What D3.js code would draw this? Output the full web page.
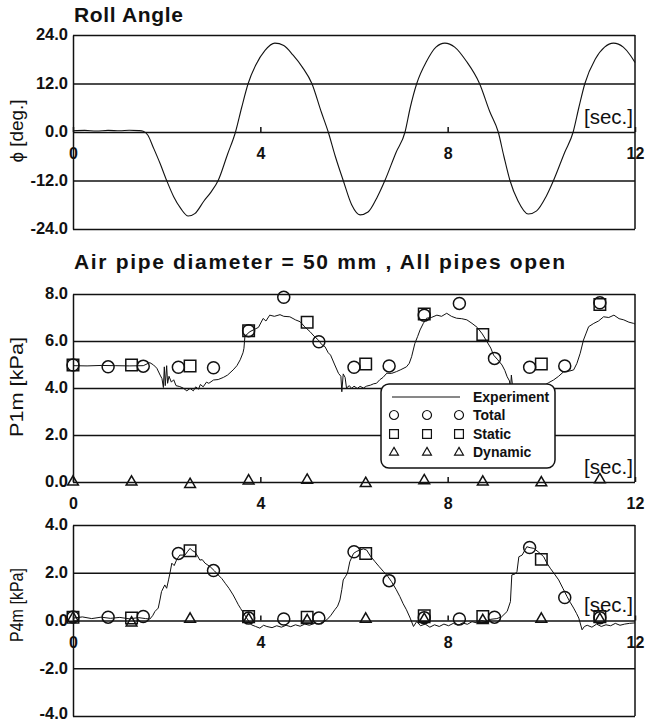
<!DOCTYPE html>
<html>
<head>
<meta charset="utf-8">
<script src="https://d3js.org/d3.v7.min.js"></script>
<style>
    body { margin: 0; background: #fff; }
    svg { display: block; }
</style>
</head>
<body>
<div id="chart"></div>
<script>
    // tick values
    var timeTicks = [0, 4, 8, 12];
    var rollTicks = [-24, -12, 0, 12, 24];
    var p1Ticks = [0, 2, 4, 6, 8];
    var p4Ticks = [-4, -2, 0, 2, 4];

    // roll angle [t (s), phi (deg)]
    var rollAngle = [
        [0, 0.3], [0.25, 0.4], [0.5, 0.25], [0.75, 0.4], [1.0, 0.3], [1.2, 0.45], [1.4, 0.35], [1.5, 0.2],
        [1.6, -0.8], [1.71, -3.7], [1.86, -7.8], [2.0, -12], [2.15, -16], [2.3, -18.9], [2.46, -20.8],
        [2.6, -20.2], [2.8, -17], [2.95, -14.8], [3.1, -12], [3.3, -5.5], [3.47, 0], [3.6, 6], [3.74, 12],
        [3.9, 16.5], [4.1, 20.2], [4.31, 22], [4.5, 21.4], [4.7, 19], [4.9, 16], [5.1, 12], [5.3, 5],
        [5.45, 0], [5.6, -6], [5.77, -12], [5.95, -18], [6.13, -20.5], [6.3, -19.8], [6.5, -16], [6.66, -12],
        [6.9, -5], [7.09, 0], [7.2, 6], [7.34, 12], [7.55, 17.5], [7.75, 21], [7.94, 22], [8.15, 21],
        [8.4, 17.5], [8.68, 12], [8.9, 5], [9.08, 0], [9.2, -6], [9.33, -12], [9.5, -17], [9.72, -20.3],
        [9.9, -19.5], [10.1, -16], [10.26, -12], [10.5, -5], [10.68, 0], [10.8, 6], [10.93, 12], [11.15, 18],
        [11.35, 21], [11.54, 22], [11.75, 21], [11.9, 19], [12, 17.2]
    ];

    // P1m experiment [t, kPa]
    var p1Experiment = [
        [0, 4.95], [0.3, 4.94], [0.6, 4.96], [0.9, 4.95], [1.2, 4.94], [1.5, 4.95], [1.64, 5.08], [1.72, 4.98],
        [1.79, 4.84], [1.86, 4.55], [1.9, 4.4], [1.93, 4.02], [1.95, 4.9], [1.97, 4.1], [2.0, 4.95], [2.02, 4.2],
        [2.05, 4.5], [2.1, 4.25], [2.15, 4.35], [2.2, 4.1], [2.28, 4.06], [2.35, 4.0], [2.43, 3.88], [2.5, 3.98],
        [2.57, 3.88], [2.62, 4.05], [2.68, 3.95], [2.72, 4.15], [2.78, 4.05], [2.85, 4.25], [2.9, 4.2], [3.0, 4.34],
        [3.1, 4.36], [3.21, 4.45], [3.3, 4.55], [3.42, 4.77], [3.5, 4.95], [3.57, 5.2], [3.63, 5.5], [3.65, 5.69],
        [3.67, 6.18], [3.72, 6.3], [3.78, 6.4], [3.88, 6.5], [3.96, 6.58], [4.06, 6.96], [4.12, 6.85], [4.2, 7.1],
        [4.3, 7.05], [4.42, 7.12], [4.5, 7.05], [4.63, 7.03], [4.75, 6.9], [4.85, 6.82], [4.95, 6.6], [5.06, 6.4],
        [5.15, 6.2], [5.24, 6.04], [5.31, 5.85], [5.38, 5.76], [5.45, 5.5], [5.5, 5.4], [5.59, 4.98], [5.67, 4.62],
        [5.72, 4.5], [5.74, 3.84], [5.77, 4.6], [5.81, 4.45], [5.84, 4.0], [5.9, 4.1], [5.95, 3.98], [6.0, 4.08],
        [6.07, 3.98], [6.13, 4.07], [6.2, 4.0], [6.27, 4.08], [6.35, 4.12], [6.42, 4.18], [6.48, 4.2], [6.55, 4.35],
        [6.62, 4.45], [6.7, 4.63], [6.8, 4.62], [6.91, 4.7], [7.0, 4.78], [7.12, 4.9], [7.18, 5.05], [7.23, 5.33],
        [7.3, 5.9], [7.36, 6.2], [7.41, 6.47], [7.48, 6.75], [7.55, 6.97], [7.65, 7.0], [7.77, 7.1], [7.87, 7.05],
        [7.98, 7.18], [8.08, 7.05], [8.19, 6.97], [8.3, 6.95], [8.41, 6.9], [8.52, 6.75], [8.63, 6.58], [8.74, 6.3],
        [8.84, 5.97], [8.92, 5.7], [8.98, 5.4], [9.07, 5.2], [9.16, 4.98], [9.22, 4.75], [9.27, 4.48], [9.32, 4.3],
        [9.34, 3.91], [9.36, 4.55], [9.39, 4.0], [9.42, 4.12], [9.48, 3.98], [9.55, 4.08], [9.62, 3.98], [9.7, 4.06],
        [9.78, 3.97], [9.85, 4.05], [9.92, 4.0], [10.0, 4.12], [10.05, 4.1], [10.15, 4.22], [10.26, 4.34],
        [10.37, 4.5], [10.48, 4.7], [10.6, 4.72], [10.69, 4.77], [10.76, 5.05], [10.83, 5.48], [10.9, 6.04],
        [10.95, 6.3], [11.01, 6.61], [11.12, 6.75], [11.22, 6.85], [11.33, 7.03], [11.44, 7.0], [11.55, 7.1],
        [11.66, 6.95], [11.76, 6.9], [11.87, 6.8], [11.97, 6.75], [12, 6.72]
    ];

    // P4m experiment [t, kPa]
    var p4Experiment = [
        [0, 0.1], [0.2, 0.15], [0.4, 0.08], [0.6, 0.14], [0.8, 0.09], [1.0, 0.13], [1.2, 0.07], [1.4, 0.12],
        [1.55, 0.08], [1.64, 0.06], [1.7, 0.2], [1.75, 0.38], [1.82, 0.52], [1.86, 0.9], [1.89, 1.21], [1.96, 1.49],
        [2.0, 1.35], [2.04, 1.7], [2.07, 1.98], [2.11, 2.4], [2.16, 2.3], [2.21, 2.53], [2.28, 2.74], [2.39, 2.74],
        [2.45, 2.9], [2.5, 3.02], [2.55, 2.92], [2.6, 2.88], [2.66, 2.7], [2.71, 2.53], [2.76, 2.55], [2.82, 2.4],
        [2.93, 2.25], [3.02, 2.08], [3.1, 1.91], [3.18, 1.75], [3.25, 1.56], [3.33, 1.35], [3.42, 1.07], [3.48, 0.85],
        [3.53, 0.66], [3.58, 0.5], [3.64, 0.31], [3.71, 0.1], [3.76, -0.05], [3.81, -0.18], [3.9, -0.25],
        [3.99, -0.32], [4.07, -0.2], [4.14, -0.25], [4.25, -0.3], [4.35, -0.22], [4.45, -0.28], [4.55, -0.2],
        [4.65, -0.26], [4.75, -0.18], [4.85, -0.24], [4.95, -0.15], [5.05, -0.2], [5.15, -0.12], [5.25, -0.15],
        [5.35, -0.05], [5.42, 0.03], [5.5, 0.2], [5.59, 0.45], [5.65, 0.6], [5.7, 0.86], [5.74, 1.3], [5.77, 1.7],
        [5.82, 1.85], [5.86, 1.98], [5.91, 2.46], [5.99, 2.81], [6.06, 2.9], [6.13, 2.95], [6.2, 3.0], [6.27, 2.95],
        [6.35, 2.7], [6.45, 2.46], [6.54, 2.25], [6.63, 2.05], [6.72, 1.85], [6.8, 1.63], [6.9, 1.3], [6.98, 1.0],
        [7.05, 0.7], [7.12, 0.45], [7.2, 0.1], [7.27, -0.25], [7.34, -0.04], [7.42, -0.22], [7.52, -0.15],
        [7.62, -0.28], [7.72, -0.18], [7.82, -0.25], [7.92, -0.15], [8.02, -0.22], [8.12, -0.12], [8.22, -0.2],
        [8.32, -0.1], [8.42, -0.16], [8.52, -0.05], [8.62, -0.1], [8.72, 0.0], [8.82, -0.05], [8.92, 0.05],
        [9.05, 0.08], [9.15, 0.15], [9.27, 0.38], [9.34, 0.79], [9.37, 1.91], [9.44, 1.95], [9.48, 2.05],
        [9.52, 2.67], [9.59, 2.74], [9.65, 2.95], [9.69, 3.09], [9.76, 3.05], [9.84, 3.02], [9.95, 2.85],
        [10.05, 2.67], [10.12, 2.4], [10.19, 2.19], [10.28, 1.95], [10.37, 1.7], [10.46, 1.35], [10.55, 1.0],
        [10.62, 0.75], [10.69, 0.52], [10.75, 0.3], [10.8, 0.1], [10.87, -0.39], [10.92, -0.25], [10.98, -0.2],
        [11.08, -0.28], [11.18, -0.15], [11.28, -0.25], [11.38, -0.18], [11.48, -0.22], [11.58, -0.12],
        [11.68, -0.2], [11.78, -0.15], [11.88, -0.12], [12.0, -0.1]
    ];

    // computed points
    var totalTimes = [0, 0.75, 1.5, 2.25, 3.0, 3.75, 4.5, 5.25, 6.0, 6.75, 7.5, 8.25, 9.0, 9.75, 10.5, 11.25];
    var staticTimes = [0, 1.25, 2.5, 3.75, 5.0, 6.25, 7.5, 8.75, 10.0, 11.25];
    var p1Total = [4.98, 4.9, 4.93, 4.88, 4.86, 6.44, 7.86, 5.97, 4.88, 4.94, 7.1, 7.6, 5.26, 4.88, 4.94, 7.63];
    var p1Static = [4.98, 4.98, 4.94, 6.44, 6.8, 5.02, 7.15, 6.28, 5.02, 7.55];
    var p1Dynamic = [0.0, 0.0, -0.1, 0.05, 0.08, -0.06, 0.06, 0.0, -0.03, 0.1];
    var p4Total = [0.15, 0.14, 0.17, 2.81, 2.09, 0.1, 0.06, 0.1, 2.88, 1.67, 0.12, 0.06, 0.14, 3.06, 0.96, 0.12];
    var p4Static = [0.14, 0.1, 2.92, 0.17, 0.14, 2.81, 0.2, 0.17, 2.56, 0.17];
    var p4Dynamic = [0.1, -0.1, 0.06, 0.05, 0.0, 0.06, 0.05, 0.0, 0.06, 0.05];

    var FONT = "'Liberation Sans', Arial, Helvetica, sans-serif";
    var INK = "#111";

    var svg = d3.select("#chart")
        .append("svg")
        .attr("width", 647)
        .attr("height", 722)
        .attr("font-family", FONT);

    var x = d3.scaleLinear().domain([0, 12]).range([73, 635]);

    var circleSym = d3.symbol().type(d3.symbolCircle).size(113);
    var squareSym = d3.symbol().type(d3.symbolSquare).size(132);
    var triSym = d3.symbol().type(d3.symbolTriangle).size(50);

    function drawPanel(p) {
        var y = d3.scaleLinear().domain(p.domain).range([p.bottom, p.top]);
        var g = svg.append("g");

        // grid lines + y labels
        var ya = g.append("g")
            .attr("transform", "translate(" + x(0) + ",0)")
            .call(d3.axisLeft(y)
                .tickValues(p.ticks)
                .tickSize(-(x(12) - x(0)))
                .tickSizeOuter(0)
                .tickPadding(5)
                .tickFormat(function (d) { return d.toFixed(1); }));
        ya.attr("font-family", FONT).attr("font-size", 16.5).attr("font-weight", "bold");
        ya.selectAll("line").attr("stroke", INK).attr("stroke-width", 1.5);
        ya.select(".domain").attr("stroke", INK).attr("stroke-width", 1.5);
        ya.selectAll("text").attr("fill", INK).attr("x", -5)
            .attr("dy", function (d) { return y(d) > 710 ? "0.15em" : "0.3em"; });

        // right border
        g.append("line")
            .attr("x1", x(12)).attr("x2", x(12))
            .attr("y1", y(p.domain[1])).attr("y2", y(p.domain[0]))
            .attr("stroke", INK).attr("stroke-width", 1.5);

        // time axis on the zero line
        var xa = g.append("g")
            .attr("transform", "translate(0," + y(0) + ")")
            .call(d3.axisBottom(x)
                .tickValues(timeTicks)
                .tickSize(-5)
                .tickPadding(16)
                .tickFormat(d3.format("d")));
        xa.select(".domain").remove();
        xa.attr("font-family", FONT).attr("font-size", 16).attr("font-weight", "bold");
        xa.selectAll("line").attr("stroke", INK).attr("stroke-width", 1.5);
        xa.selectAll("text").attr("fill", INK);

        // experiment line
        g.append("path")
            .datum(p.line)
            .attr("fill", "none")
            .attr("stroke", INK)
            .attr("stroke-width", p.lineWidth)
            .attr("d", d3.line()
                .x(function (d) { return x(d[0]); })
                .y(function (d) { return y(d[1]); })
                .curve(p.curve));

        // computed markers
        if (p.total) {
            var marks = [
                { times: totalTimes, vals: p.total, sym: circleSym },
                { times: staticTimes, vals: p.stat, sym: squareSym },
                { times: staticTimes, vals: p.dyn, sym: triSym }
            ];
            marks.forEach(function (m) {
                g.append("g").selectAll("path")
                    .data(m.times)
                    .join("path")
                    .attr("transform", function (d, i) {
                        return "translate(" + x(d) + "," + y(m.vals[i]) + ")";
                    })
                    .attr("d", m.sym)
                    .attr("fill", "none")
                    .attr("stroke", INK)
                    .attr("stroke-width", 1.5);
            });
        }

        // y title
        g.append("text")
            .attr("transform", "translate(" + p.titleX + "," + p.titleY + ") rotate(-90)")
            .attr("text-anchor", "middle")
            .attr("font-size", 19)
            .attr("textLength", p.titleLen)
            .attr("lengthAdjust", "spacingAndGlyphs")
            .attr("fill", INK)
            .text(p.title);

        return { g: g, y: y };
    }

    // titles
    svg.append("text")
        .attr("x", 74).attr("y", 21.5)
        .attr("font-size", 21).attr("font-weight", "bold")
        .attr("textLength", 109)
        .attr("fill", INK)
        .text("Roll Angle");

    svg.append("text")
        .attr("x", 74).attr("y", 269)
        .attr("font-size", 21).attr("font-weight", "bold")
        .attr("textLength", 491)
        .attr("fill", INK)
        .text("Air pipe diameter = 50 mm , All pipes open");

    var roll = drawPanel({
        domain: [-24, 24], top: 35, bottom: 229, ticks: rollTicks,
        line: rollAngle, curve: d3.curveMonotoneX, lineWidth: 1.1,
        title: "\u03d5 [deg.]", titleX: 23, titleY: 131, titleLen: 63
    });
    var p1 = drawPanel({
        domain: [0, 8], top: 294, bottom: 482, ticks: p1Ticks,
        line: p1Experiment, curve: d3.curveLinear, lineWidth: 1,
        total: p1Total, stat: p1Static, dyn: p1Dynamic,
        title: "P1m [kPa]", titleX: 23, titleY: 387, titleLen: 100
    });
    var p4 = drawPanel({
        domain: [-4, 4], top: 525, bottom: 716, ticks: p4Ticks,
        line: p4Experiment, curve: d3.curveLinear, lineWidth: 1,
        total: p4Total, stat: p4Static, dyn: p4Dynamic,
        title: "P4m [kPa]", titleX: 23, titleY: 605, titleLen: 74
    });

    // legend (P1m panel)
    var leg = p1.g.append("g");
    leg.append("rect")
        .attr("x", 381).attr("y", 384)
        .attr("width", 174).attr("height", 84)
        .attr("rx", 8).attr("ry", 8)
        .attr("fill", "#fff").attr("stroke", INK).attr("stroke-width", 1.5);
    leg.append("line")
        .attr("x1", 392).attr("x2", 460)
        .attr("y1", 397).attr("y2", 397)
        .attr("stroke", INK).attr("stroke-width", 1);
    var legRows = [
        { label: "Experiment", y: 397, sym: null },
        { label: "Total", y: 415, sym: d3.symbol().type(d3.symbolCircle).size(64) },
        { label: "Static", y: 434, sym: d3.symbol().type(d3.symbolSquare).size(78) },
        { label: "Dynamic", y: 452.5, sym: d3.symbol().type(d3.symbolTriangle).size(34) }
    ];
    var legCols = [394, 427, 459];
    legRows.forEach(function (r) {
        if (r.sym) {
            leg.append("g").selectAll("path")
                .data(legCols)
                .join("path")
                .attr("transform", function (d) { return "translate(" + d + "," + r.y + ")"; })
                .attr("d", r.sym)
                .attr("fill", "none")
                .attr("stroke", INK)
                .attr("stroke-width", 1.2);
        }
        leg.append("text")
            .attr("x", 473).attr("y", r.y + 4.5)
            .attr("font-size", 14).attr("font-weight", "bold")
            .attr("fill", INK)
            .text(r.label);
    });

    // [sec.] labels
    [[roll, 124], [p1, 474], [p4, 612]].forEach(function (s) {
        s[0].g.append("text")
            .attr("x", 633).attr("y", s[1])
            .attr("text-anchor", "end")
            .attr("font-size", 20.5)
            .attr("fill", INK)
            .text("[sec.]");
    });
</script>
</body>
</html>
